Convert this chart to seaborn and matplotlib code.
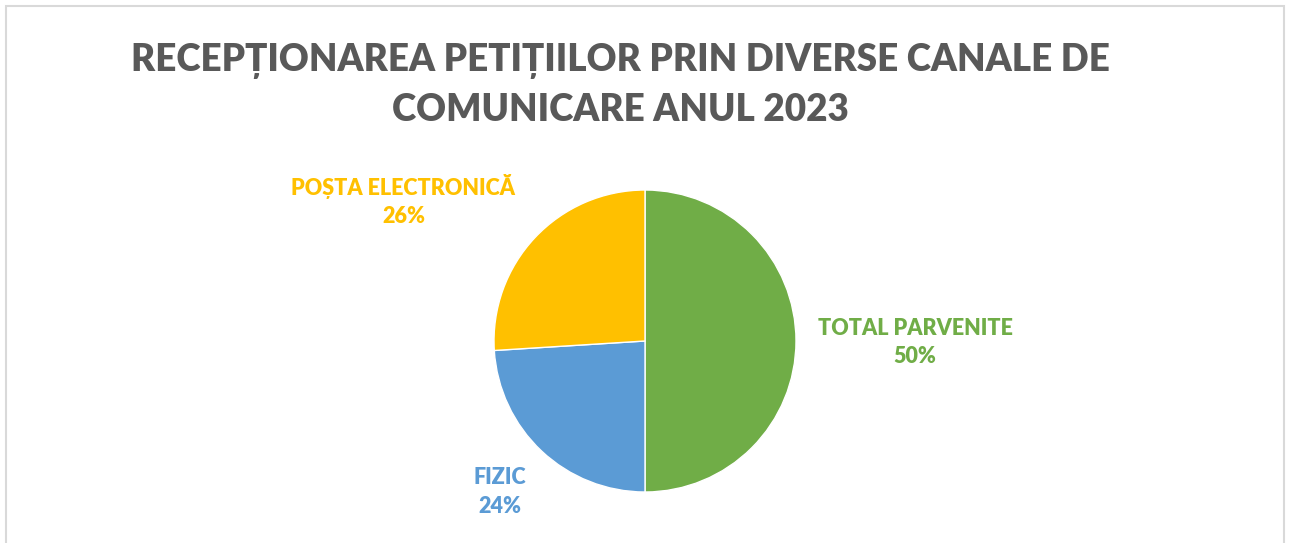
import matplotlib
matplotlib.use("Agg")
import matplotlib.pyplot as plt
import seaborn as sns
from matplotlib.patches import Rectangle

sns.set_theme(style="white")
plt.rcParams['font.family'] = ['Lato', 'DejaVu Sans']

# data
categories = ["TOTAL PARVENITE", "FIZIC", "POȘTA ELECTRONICĂ"]
values = [50, 24, 26]
colors = ["#70AD47", "#5B9BD5", "#FFC000"]
title = "RECEPȚIONAREA PETIȚIILOR PRIN DIVERSE CANALE DE\nCOMUNICARE ANUL 2023"

W, H = 1290, 543
fig = plt.figure(figsize=(W / 100, H / 100), dpi=100)
fig.patch.set_facecolor("white")

# chart border
fig.add_artist(Rectangle((6 / W, -0.05), (1284 - 6) / W, 1.05 - 6 / H,
                         transform=fig.transFigure, fill=False,
                         edgecolor="#D9D9D9", linewidth=1.5))

fig.text(620 / W, 1 - 85 / H, title, ha="center", va="center",
         fontsize=26.5, fontweight="heavy", color="#595959", linespacing=1.48)

cx, cy, r = 645, 341, 151
ax = fig.add_axes([(cx - r) / W, (H - cy - r) / H, 2 * r / W, 2 * r / H])
wedges, _ = ax.pie(values, colors=colors, startangle=90, counterclock=False,
                   radius=1, wedgeprops=dict(edgecolor="white", linewidth=1))
ax.set_xlim(-1, 1)
ax.set_ylim(-1, 1)
ax.set_aspect("auto")
ax.axis("off")

label_pos = [(1.79, -0.01), (-0.96, -1.0), (-1.60, 0.93)]
for cat, v, c, (lx, ly) in zip(categories, values, colors, label_pos):
    ax.text(lx, ly, f"{cat}\n{v}%", ha="center", va="center", color=c,
            fontsize=15.5, fontweight="heavy", linespacing=1.45, clip_on=False)

fig.savefig("out.png", dpi=100, facecolor="white")
